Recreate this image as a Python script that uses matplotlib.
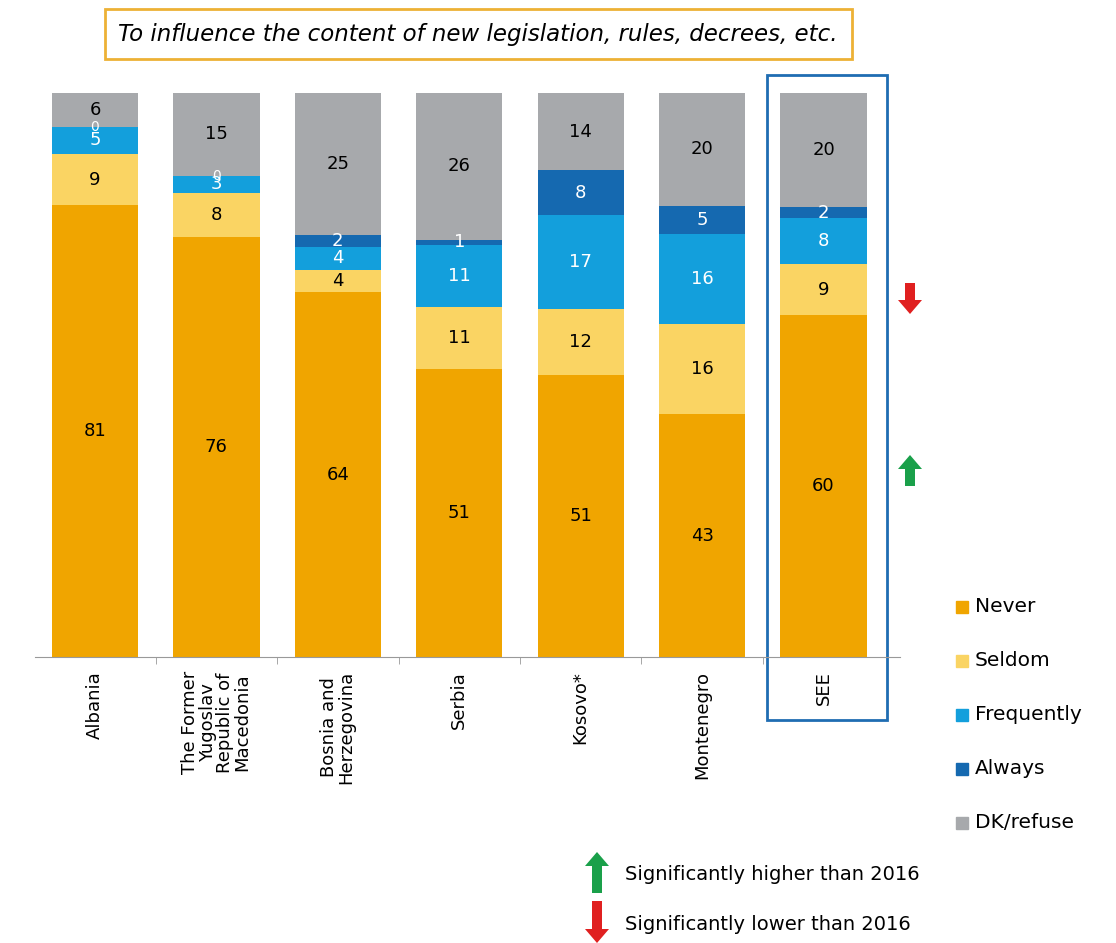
import matplotlib.pyplot as plt
from matplotlib.patches import Rectangle, FancyArrow
import numpy as np

plt.rcParams['font.family'] = ['DejaVu Sans']

# data
countries = ['Albania', 'The Former\nYugoslav\nRepublic of\nMacedonia', 'Bosnia and\nHerzegovina',
             'Serbia', 'Kosovo*', 'Montenegro', 'SEE']
never = [81, 76, 64, 51, 51, 43, 60]
seldom = [9, 8, 4, 11, 12, 16, 9]
frequently = [5, 3, 4, 11, 17, 16, 8]
always = [0, 0, 2, 1, 8, 5, 2]
dk = [6, 15, 25, 26, 14, 20, 20]

series = [('Never', never, '#F0A500', 'black'),
          ('Seldom', seldom, '#FAD463', 'black'),
          ('Frequently', frequently, '#139FDC', 'white'),
          ('Always', always, '#1569B0', 'white'),
          ('DK/refuse', dk, '#A7A9AC', 'black')]

W, H = 1116, 943
fig = plt.figure(figsize=(W / 100, H / 100), dpi=100)
ax = fig.add_axes([35 / W, 1 - 657 / H, 865 / W, 564 / H])

x = np.arange(len(countries))
tot = np.array([sum(s[1][i] for s in series) for i in range(len(countries))], dtype=float)
bottom = np.zeros(len(countries))
for name, vals, col, tcol in series:
    h = np.array(vals) / tot * 100
    ax.bar(x, h, 0.71, bottom=bottom, color=col, edgecolor='none', label=name)
    for i, v in enumerate(vals):
        # zero values sit on the band edge, like the original
        ax.text(x[i], bottom[i] + h[i] / 2, str(v), ha='center', va='center',
                fontsize=13 if v else 10, color=tcol)
    bottom += h

ax.set_xlim(-0.494, 6.63)
ax.set_ylim(0, 100)
for s in ['top', 'right', 'left']:
    ax.spines[s].set_visible(False)
ax.spines['bottom'].set_color('#999999')
ax.set_yticks([])
ax.set_xticks(x)
ax.set_xticklabels(countries, rotation=90, fontsize=13, va='top', ha='center',
                   multialignment='center', linespacing=0.95)
ax.tick_params(axis='x', length=0, pad=10)
ax.set_xticks(x[:-1] + 0.5, minor=True)
ax.tick_params(axis='x', which='minor', length=5, color='#999999')

# SEE frame
ax.add_patch(Rectangle((767 / W, 1 - 720 / H), 120 / W, 645 / H, transform=fig.transFigure,
                       fill=False, edgecolor='#1F6DB2', lw=2, clip_on=False))

# title box
fig.text(478 / W, 1 - 34 / H, 'To influence the content of new legislation, rules, decrees, etc.',
         ha='center', va='center', fontsize=16.5, style='italic',
         bbox=dict(boxstyle='square,pad=0.6', facecolor='white', edgecolor='#EDB135', lw=2))

# legend
for k, (name, vals, col, tcol) in enumerate(series):
    py = 607 + 54 * k
    fig.patches.append(Rectangle((956 / W, 1 - (py + 6) / H), 12 / W, 12 / H,
                                 transform=fig.transFigure, color=col))
    fig.text(975 / W, 1 - py / H, name, ha='left', va='center', fontsize=14.5)


def arrow(px, ptop, pbot, up, col):
    if up:
        y0, dy = (H - pbot) / 100, (pbot - ptop) / 100
    else:
        y0, dy = (H - ptop) / 100, -(pbot - ptop) / 100
    fig.patches.append(FancyArrow(px / 100, y0, 0, dy, width=0.1, head_width=0.24,
                                  head_length=0.14, length_includes_head=True,
                                  transform=fig.dpi_scale_trans, color=col, lw=0))


arrow(910, 283, 314, False, '#E02020')
arrow(910, 455, 486, True, '#1AA04A')
arrow(597, 852, 893, True, '#1AA04A')
arrow(597, 901, 943, False, '#E02020')
fig.text(625 / W, 1 - 874 / H, 'Significantly higher than 2016', fontsize=14, va='center')
fig.text(625 / W, 1 - 925 / H, 'Significantly lower than 2016', fontsize=14, va='center')

fig.savefig('out.png', dpi=100)
